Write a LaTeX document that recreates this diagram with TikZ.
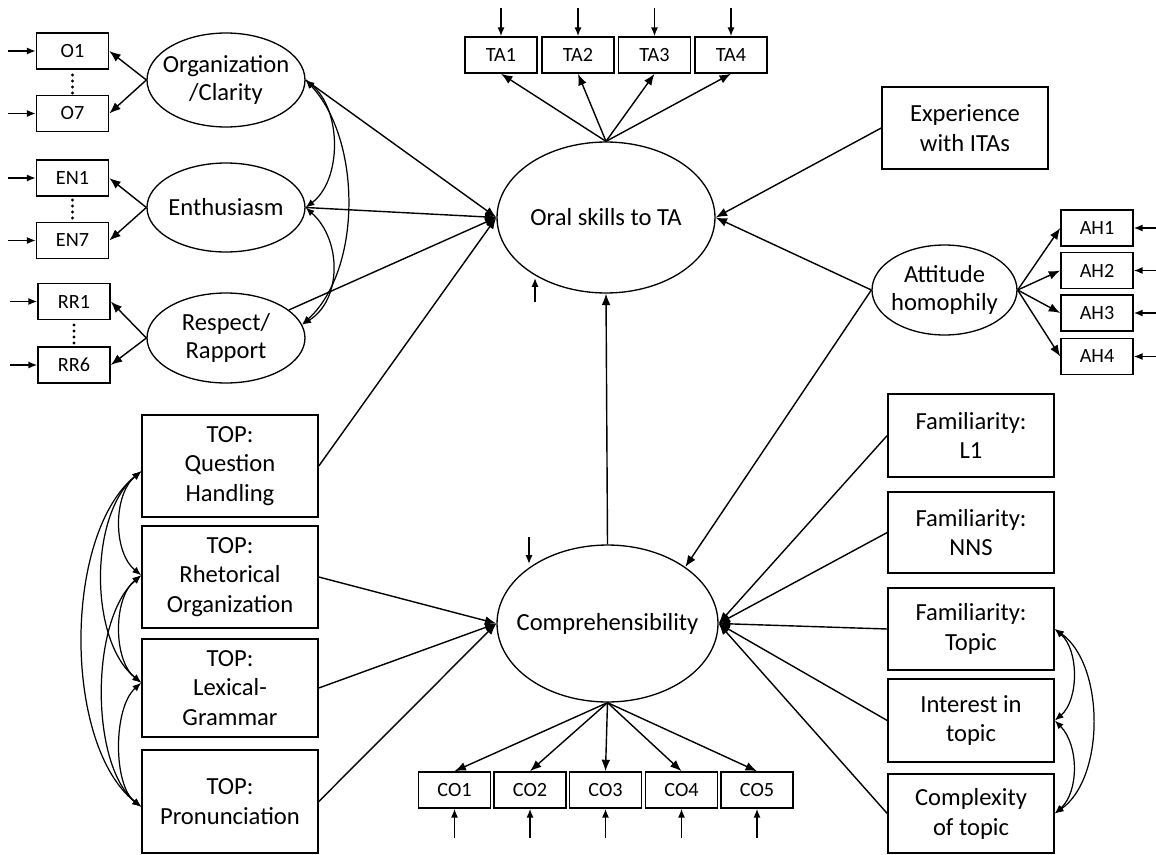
\documentclass[tikz,border=0pt]{standalone}
\usepackage{fontspec}
\setmainfont{Carlito}
\usetikzlibrary{arrows.meta,shapes.geometric}
\begin{document}
\begin{tikzpicture}[x=0.02cm,y=-0.02cm,
  box/.style={draw, line width=0.9pt, inner sep=0pt, align=center, minimum width=3.32cm, font=\fontsize{14}{17}\selectfont},
  topbox/.style={box, minimum width=3.52cm},
  ind/.style={draw, line width=0.9pt, inner sep=0pt, minimum width=1.44cm, minimum height=0.72cm, font=\fontsize{11.5}{13}\selectfont},
  lat/.style={draw, ellipse, line width=0.75pt, inner sep=0pt},
  lab/.style={align=center, font=\fontsize{14}{16}\selectfont, inner sep=0pt},
  arr/.style={line width=0.8pt, -{Latex[length=6.5pt,width=5pt]}},
  dbl/.style={line width=0.7pt, {Latex[length=5pt,width=4pt]}-{Latex[length=5pt,width=4pt]}},
  err/.style={line width=0.8pt, -{Latex[length=5pt,width=4pt]}},
  vdot/.style={fill, circle, inner sep=0pt, minimum size=1.8pt},
]
\useasboundingbox (0,0) rectangle (1156,855);

% ---- left latent factors and indicators
\node[ind] (o1) at (72.5,51) {O1};
\node[ind] (o7) at (72.5,113.5) {O7};
\node[ind] (en1) at (72.5,178) {EN1};
\node[ind] (en7) at (72.5,240.5) {EN7};
\node[ind] (rr1) at (74,301.5) {RR1};
\node[ind] (rr6) at (74,365) {RR6};
\foreach \n/\y in {a/75,b/81,c/87,d/93}{\node[vdot] (do\n) at (72.5,\y) {};}
\foreach \n/\y in {a/200,b/206,c/212,d/218}{\node[vdot] (de\n) at (72.5,\y) {};}
\foreach \n/\y in {a/325,b/331,c/337,d/343}{\node[vdot] (dr\n) at (74,\y) {};}

\node[lat, minimum width=3.16cm, minimum height=1.88cm] (org) at (226,80) {};
\node[lab] (orgt) at (org) {Organization\\/Clarity};
\node[lat, minimum width=3.16cm, minimum height=1.78cm] (enth) at (226,207.5) {};
\node[lab] (entht) at (enth) {Enthusiasm};
\node[lat, minimum width=3.16cm, minimum height=1.80cm] (resp) at (226,338) {};
\node[lab] (respt) at (resp) {Respect/\\Rapport};

% ---- Oral skills
\node[lat, minimum width=4.36cm, minimum height=3.02cm] (oral) at (606,217.5) {};
\node[lab] (oralt) at (oral) {Oral skills to TA};
\node[ind] (ta1) at (501,55) {TA1};
\node[ind] (ta2) at (578,55) {TA2};
\node[ind] (ta3) at (654.5,55) {TA3};
\node[ind] (ta4) at (731,55) {TA4};

\node[box, minimum height=1.64cm] (exp) at (965,128) {Experience\\with ITAs};
\node[lat, minimum width=2.9cm, minimum height=1.8cm] (att) at (944.5,290) {};
\node[lab] (attt) at (att) {Attitude\\homophily};
\node[ind] (ah1) at (1097,228) {AH1};
\node[ind] (ah2) at (1097,270.5) {AH2};
\node[ind] (ah3) at (1097,313) {AH3};
\node[ind] (ah4) at (1097,356.5) {AH4};

% ---- Comprehensibility
\node[lat, minimum width=4.42cm, minimum height=3.14cm] (comp) at (607.5,623.5) {};
\node[lab] (compt) at (comp) {Comprehensibility};
\node[ind] (co1) at (454.5,790) {CO1};
\node[ind] (co2) at (530,790) {CO2};
\node[ind] (co3) at (605.5,790) {CO3};
\node[ind] (co4) at (681.5,790) {CO4};
\node[ind] (co5) at (757,790) {CO5};

% ---- TOP boxes
\node[topbox, minimum height=2.04cm] (qh) at (230,466) {TOP:\\Question\\Handling};
\node[topbox, minimum height=2.04cm] (ro) at (230,577) {TOP:\\Rhetorical\\Organization};
\node[topbox, minimum height=1.96cm] (lg) at (230,688) {TOP:\\Lexical-\\Grammar};
\node[topbox, minimum height=2.06cm] (pr) at (230,801.5) {TOP:\\Pronunciation};

% ---- right boxes
\node[box, minimum height=1.66cm] (fl1) at (971,435.5) {Familiarity:\\L1};
\node[box, minimum height=1.62cm] (fnns) at (971,532.5) {Familiarity:\\NNS};
\node[box, minimum height=1.64cm] (ftop) at (971,629) {Familiarity:\\Topic};
\node[box, minimum height=1.66cm] (int) at (971,720.5) {Interest in\\topic};
\node[box, minimum height=1.58cm] (cx) at (971,813.5) {Complexity\\of topic};

% ---- error / input coordinates
\coordinate (eo1) at (8,51);
\coordinate (eo7) at (8,113.5);
\coordinate (een1) at (8,178);
\coordinate (een7) at (8,240.5);
\coordinate (err1) at (10,301.5);
\coordinate (err6) at (10,365);
\coordinate (eta1) at (501,8);
\coordinate (eta2) at (578,8);
\coordinate (eta3) at (654.5,8);
\coordinate (eta4) at (731,8);
\coordinate (eah1) at (1156,228);
\coordinate (eah2) at (1156,270.5);
\coordinate (eah3) at (1156,313);
\coordinate (eah4) at (1156,356.5);
\coordinate (eco1) at (454.5,838);
\coordinate (eco2) at (530,838);
\coordinate (eco3) at (605.5,838);
\coordinate (eco4) at (681.5,838);
\coordinate (eco5) at (757,838);
\coordinate (eoral) at (535,302);
\coordinate (eoralend) at (535,278);
\coordinate (ecomp) at (529,537);
\coordinate (ecompend) at (529,564);

\foreach \a/\b in {eo1/o1,eo7/o7,een1/en1,een7/en7,err1/rr1,err6/rr6,
  eta1/ta1,eta2/ta2,eta3/ta3,eta4/ta4,eah1/ah1,eah2/ah2,eah3/ah3,eah4/ah4,
  eco1/co1,eco2/co2,eco3/co3,eco4/co4,eco5/co5}
  {\draw[err] (\a) -- (\b);}
\draw[err] (eoral) -- (eoralend);
\draw[err] (ecomp) -- (ecompend);

% ---- loadings
\draw[arr] (org.west) -- (o1.east);
\draw[arr] (org.west) -- (o7.east);
\draw[arr] (enth.west) -- (en1.east);
\draw[arr] (enth.west) -- (en7.east);
\draw[arr] (resp.west) -- (rr1.east);
\draw[arr] (resp.west) -- (rr6.east);
\foreach \t in {ta1,ta2,ta3,ta4} {\draw[arr] (oral.north) -- (\t.south);}
\foreach \t in {ah1,ah2,ah3,ah4} {\draw[arr] (att.east) -- (\t.west);}
\foreach \t in {co1,co2,co3,co4,co5} {\draw[arr] (comp.south) -- (\t.north);}

% ---- structural paths
\draw[arr] (org.east) -- (oral.west);
\draw[arr] (enth.east) -- (oral.west);
\draw[arr] (resp) -- (oral.west);
\draw[arr] (qh.east) -- (oral.west);
\draw[arr] (exp.west) -- (oral.east);
\draw[arr] (att.west) -- (oral.east);
\draw[arr] (att.west) -- (comp.36);
\draw[arr] (comp.north) -- (oral.south);
\foreach \s in {ro,lg,pr} {\draw[arr] (\s.east) -- (comp.west);}
\foreach \s in {fl1,fnns,ftop,int,cx} {\draw[arr] (\s.west) -- (comp.east);}

% ---- covariances
\draw[dbl] (org.east) .. controls (342,110) and (342,180) .. (enth.east);
\draw[dbl] (enth.east) .. controls (342,240) and (342,300) .. (resp.10);
\draw[dbl] (org.east) .. controls (362,140) and (362,270) .. (resp.10);

\coordinate (qhw) at ([yshift=-3pt]qh.west);
\coordinate (row) at ([yshift=1pt]ro.west);
\coordinate (lgw) at ([yshift=3pt]lg.west);
\coordinate (prw) at ([yshift=-3pt]pr.west);
\draw[dbl] (qhw) .. controls (113,495) and (113,552) .. (row);
\draw[dbl] (row) .. controls (113,598) and (113,660) .. (lgw);
\draw[dbl] (lgw) .. controls (113,708) and (113,785) .. (prw);
\draw[dbl] (qhw) .. controls (89,515) and (89,640) .. (lgw);
\draw[dbl] (row) .. controls (90,620) and (90,765) .. (prw);
\draw[dbl] (qhw) .. controls (63,535) and (63,745) .. (prw);

\draw[dbl] (ftop.east) .. controls (1079,650) and (1079,700) .. (int.east);
\draw[dbl] (int.east) .. controls (1079,745) and (1079,792) .. (cx.east);
\draw[dbl] (ftop.east) .. controls (1105,665) and (1105,778) .. (cx.east);
\end{tikzpicture}
\end{document}
